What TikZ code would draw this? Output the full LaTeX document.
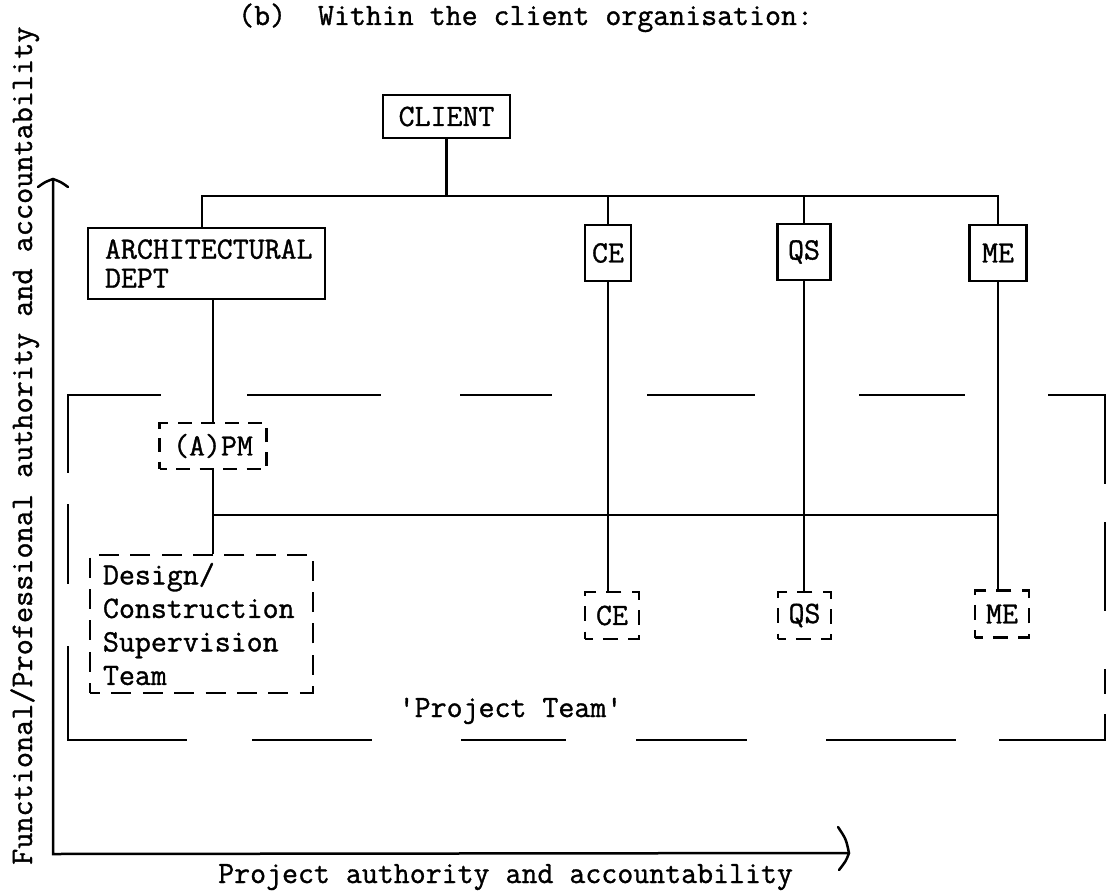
\documentclass[tikz,border=0pt]{standalone}
\usepackage{fontspec}
\setmonofont{Latin Modern Mono}[AutoFakeBold=1.1]
\begin{document}
\begin{tikzpicture}[x=1pt,y=-1pt,
  every node/.style={font=\ttfamily\bfseries\fontsize{31}{33.5}\selectfont, inner sep=0pt},
  line/.style={line width=2.4pt},
  box/.style={draw, line width=2.4pt, inner sep=0pt},
  dbox/.style={box, dash pattern=on 15pt off 10.25pt, dash phase=7.5pt},
  frame/.style={line width=2.5pt, line cap=rect},
  axis/.style={line width=2.5pt},
]
\fill[white] (0,0) rectangle (1107,893);
\useasboundingbox (0,0) rectangle (1107,893);

% title and axis labels
\node[anchor=base west] (title) at (238,25) {(b)\ \ Within the client organisation:};
\node[anchor=base west] (xl) at (218,883) {Project authority and accountability};
\node[rotate=90, anchor=base west, font=\ttfamily\bfseries\fontsize{31.3}{33}\selectfont] (yl) at (32,865) {Functional/Professional authority and accountability};

% upper boxes
\node[box, minimum width=127pt, minimum height=43pt] (client) at (446.5,116.5) {CLIENT};
\node[box, minimum width=237pt, minimum height=71pt, text width=203pt, align=left,
      font=\ttfamily\bfseries\fontsize{31}{29}\selectfont] (arch) at (206.5,263.5) {ARCHITECTURAL\\DEPT};
\node[box, minimum width=46pt, minimum height=56pt] (ce) at (608,253) {CE};
\node[box, minimum width=53pt, minimum height=56pt] (qs) at (804,252) {QS};
\node[box, minimum width=57pt, minimum height=56pt] (me) at (998,253) {ME};

% project team boxes
\node[dbox, dash pattern=on 14pt off 9.5pt, dash phase=7pt, minimum width=107pt, minimum height=46pt] (apm) at (213,446) {(A)PM};
\node[dbox, dash pattern=on 20pt off 11.4pt, dash phase=10pt, minimum width=223pt, minimum height=138pt,
      text width=197pt, align=left] (design) at (201.5,624) {Design/\\Construction\\Supervision\\Team};
\node[dbox, minimum width=54pt, minimum height=47pt] (ce2) at (612,615.5) {CE};
\node[dbox, minimum width=53pt, minimum height=47pt] (qs2) at (804.5,615.5) {QS};
\node[dbox, minimum width=54pt, minimum height=47pt] (me2) at (1002,614) {ME};
\node[anchor=base] (pt) at (510.5,717) {\symbol{39}Project Team\symbol{39}};

% connectors
\coordinate (bar) at (446.5,196);
\coordinate (hl) at (0,515);
\draw[line] (client.south) -- (bar);
\draw[line] ([xshift=-4.5pt]arch.north) |- (bar) -| (me.north);
\draw[line] (ce.north) -- (ce.north |- bar);
\draw[line] (qs.north) -- (qs.north |- bar);
\draw[line] (arch.south -| apm.north) -- (apm.north);
\draw[line] (apm.south) -- (apm.south |- design.north);
\draw[line] (apm.south |- hl) -- (me.south |- hl);
\draw[line] (ce.south) -- (ce.south |- ce2.north);
\draw[line] (qs.south) -- (qs.south |- qs2.north);
\draw[line] (me.south) -- (me.south |- me2.north);

% project team frame
\foreach \a/\b in {68/160, 248/380, 461/551, 648/754, 860/964, 1049/1105} \draw[frame] (\a,395) -- (\b,395);
\foreach \a/\b in {68/186, 253/371, 462/565, 637/746, 827/955, 1000/1105} \draw[frame] (\a,740) -- (\b,740);
\foreach \a/\b in {395/472, 505/583, 647/740} \draw[frame] (68,\a) -- (68,\b);
\foreach \a/\b in {395/483, 523/610, 670/693, 715/740} \draw[frame] (1105,\a) -- (1105,\b);

% axes
\coordinate (o) at (53,854);
\coordinate (yt) at (53,179);
\coordinate (xt) at (849,853);
\draw[axis] (yt) -- (o) -- (xt);
\draw[axis, line cap=round] ([shift={(-15,8)}]yt) .. controls ([shift={(-8,3)}]yt) .. (yt) .. controls ([shift={(8,3)}]yt) .. ([shift={(15,8)}]yt);
\draw[axis, line cap=round] ([shift={(-11,-26)}]xt) .. controls ([shift={(-3,-14)}]xt) .. (xt) .. controls ([shift={(-3,8)}]xt) .. ([shift={(-10,17)}]xt);
\end{tikzpicture}
\end{document}
